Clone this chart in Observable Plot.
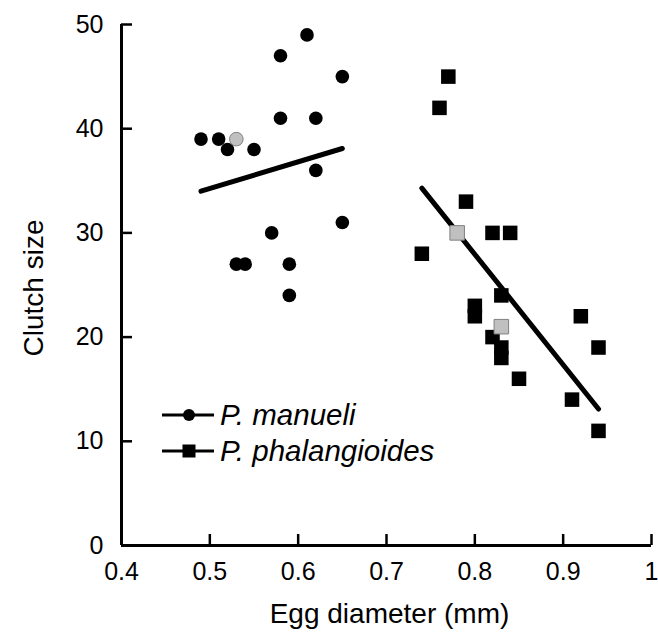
<!DOCTYPE html>
<html>
<head>
<meta charset="utf-8">
<script src="https://cdn.jsdelivr.net/npm/d3@7"></script>
<script src="https://cdn.jsdelivr.net/npm/@observablehq/plot@0.6"></script>
<style>
  html, body { margin: 0; padding: 0; background: #fff; }
  #wrap { position: relative; width: 658px; height: 636px; font-family: "Liberation Sans", Arial, sans-serif; }
  #legend { position: absolute; left: 162px; top: 397px; font-style: italic; font-size: 29.5px; color: #000; }
  #legend .row { display: flex; align-items: center; height: 36px; }
  #legend svg { display: block; margin-right: 6px; }
</style>
</head>
<body>
<div id="wrap"></div>
<script>
// P. manueli
const manueliX = [0.49, 0.51, 0.52, 0.53, 0.55, 0.58, 0.61, 0.65, 0.58, 0.62, 0.62, 0.65, 0.57, 0.53, 0.54, 0.59, 0.59];
const manueliY = [39, 39, 38, 39, 38, 47, 49, 45, 41, 41, 36, 31, 30, 27, 27, 27, 24];
const manueliGray = [false, false, false, true, false, false, false, false, false, false, false, false, false, false, false, false, false];
// P. phalangioides
const phalX = [0.77, 0.76, 0.79, 0.78, 0.82, 0.84, 0.74, 0.83, 0.80, 0.80, 0.83, 0.82, 0.83, 0.83, 0.85, 0.92, 0.94, 0.91, 0.94];
const phalY = [45, 42, 33, 30, 30, 30, 28, 24, 23, 22, 21, 20, 19, 18, 16, 22, 19, 14, 11];
const phalGray = [false, false, false, true, false, false, false, false, false, false, true, false, false, false, false, false, false, false, false];
// fitted lines (endpoints)
const manueliFitX = [0.49, 0.65];
const manueliFitY = [34.0, 38.1];
const phalFitX = [0.74, 0.94];
const phalFitY = [34.3, 13.1];
// axes
const xTicks = [0.4, 0.5, 0.6, 0.7, 0.8, 0.9, 1.0];
const yTicks = [0, 10, 20, 30, 40, 50];
const xTitle = ["Egg diameter (mm)"];
const yTitle = ["Clutch size"];
const legendLabels = ["P. manueli", "P. phalangioides"];
const legendSymbols = ["circle", "square"];

const manueli = manueliX.map((x, i) => ({x, y: manueliY[i], gray: manueliGray[i]}));
const phal = phalX.map((x, i) => ({x, y: phalY[i], gray: phalGray[i]}));
const manueliFit = manueliFitX.map((x, i) => ({x, y: manueliFitY[i]}));
const phalFit = phalFitX.map((x, i) => ({x, y: phalFitY[i]}));

const xMin = xTicks[0], xMax = xTicks[xTicks.length - 1];
const yMin = yTicks[0], yMax = yTicks[yTicks.length - 1];

const chart = Plot.plot({
  width: 658,
  height: 636,
  marginLeft: 121,
  marginRight: 7,
  marginTop: 24,
  marginBottom: 91,
  x: {domain: [xMin, xMax]},
  y: {domain: [yMin, yMax]},
  style: {fontFamily: '"Liberation Sans", Arial, sans-serif', fontSize: "25px", color: "#000", background: "#fff", overflow: "visible"},
  marks: [
    Plot.axisX({ticks: xTicks, tickSize: 0, tickPadding: 17, label: null, tickFormat: d3.format("")}),
    Plot.axisY({ticks: yTicks, tickSize: 0, tickPadding: 18, label: null}),
    // axis lines
    Plot.ruleY([yMin], {x1: xMin, x2: xMax, stroke: "#000", strokeWidth: 3}),
    Plot.ruleX([xMin], {y1: yMin, y2: yMax, stroke: "#000", strokeWidth: 3}),
    // inward ticks
    Plot.ruleY(yTicks, {y: d => d, x1: xMin, x2: xMin, insetRight: -11, stroke: "#000", strokeWidth: 2.5}),
    Plot.ruleX(xTicks, {x: d => d, y1: yMin, y2: yMin, insetTop: -11, stroke: "#000", strokeWidth: 2.5}),
    // titles
    Plot.text(xTitle, {text: d => d, frameAnchor: "bottom", textAnchor: "middle", dx: 3, dy: 77, fontSize: 28}),
    Plot.text(yTitle, {text: d => d, frameAnchor: "left", textAnchor: "middle", rotate: -90, dx: -87, dy: 3, fontSize: 28}),
    // fit lines
    Plot.line(manueliFit, {x: "x", y: "y", stroke: "#000", strokeWidth: 5}),
    Plot.line(phalFit, {x: "x", y: "y", stroke: "#000", strokeWidth: 5}),
    // points
    Plot.dot(manueli.filter(d => !d.gray), {x: "x", y: "y", r: 6.8, fill: "#000", stroke: "none"}),
    Plot.dot(phal.filter(d => !d.gray), {x: "x", y: "y", r: 8.2, symbol: "square", fill: "#000", stroke: "none"}),
    Plot.dot(manueli.filter(d => d.gray), {x: "x", y: "y", r: 6.8, fill: "#c0c0c0", stroke: "#808080", strokeWidth: 1}),
    Plot.dot(phal.filter(d => d.gray), {x: "x", y: "y", r: 8.2, symbol: "square", fill: "#c0c0c0", stroke: "#808080", strokeWidth: 1})
  ]
});

const wrap = document.getElementById("wrap");
wrap.appendChild(chart);

// legend
const legend = document.createElement("div");
legend.id = "legend";
legendLabels.forEach((label, i) => {
  const row = document.createElement("div");
  row.className = "row";
  const sym = legendSymbols[i] === "circle"
    ? '<circle cx="27" cy="7" r="6" fill="#000"/>'
    : '<rect x="20.5" y="0.5" width="13" height="13" fill="#000"/>';
  row.innerHTML = '<svg width="52" height="14" viewBox="0 0 52 14"><line x1="0" y1="7" x2="52" y2="7" stroke="#000" stroke-width="3"/>' + sym + '</svg><span>' + label + '</span>';
  legend.appendChild(row);
});
wrap.appendChild(legend);
</script>
</body>
</html>
